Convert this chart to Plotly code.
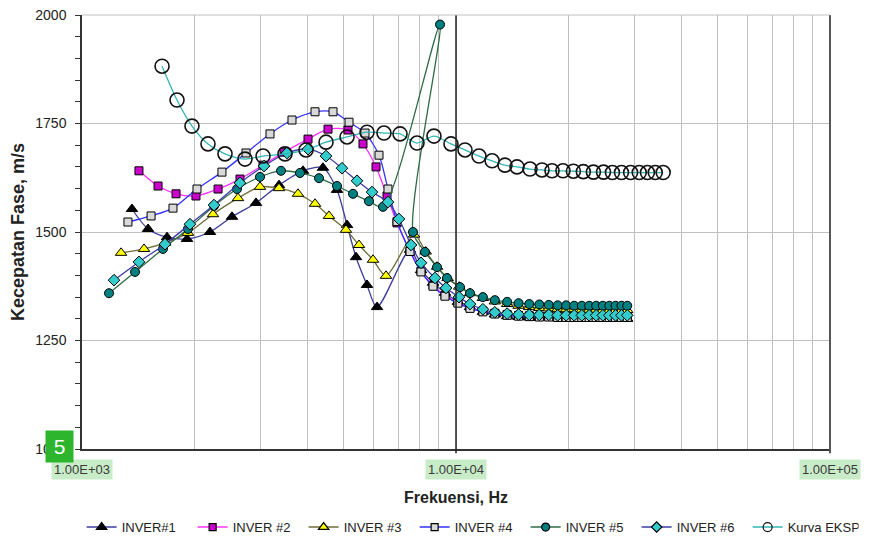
import plotly.graph_objects as go

# ---------------- data ----------------
tail_f = [10900, 11800, 12700, 13700, 14700, 15700, 16700, 17700, 18700, 19700,
          20700, 21700, 22700, 23700, 24700, 25700, 26700, 27700, 28700]

f1 = [1360, 1502, 1688, 1909, 2199, 2518, 2919, 3363, 3898, 4409, 4807, 5113, 5404,
      5781, 6150, 7535, 8062, 8680, 9346, 10120] + tail_f
v1 = [1553, 1507, 1488, 1484, 1500, 1535, 1567, 1608, 1641, 1648, 1597, 1516, 1442,
      1378, 1327, 1459, 1412, 1383, 1360, 1339,
      1327, 1316, 1310, 1306, 1304, 1303, 1302, 1302, 1301, 1301,
      1301, 1300, 1300, 1300, 1300, 1300, 1300, 1300, 1300]

f2 = [1420, 1597, 1784, 2017, 2311, 2645, 3048, 3469, 4021, 4548, 5143, 5640, 6112,
      6539, 6954, 7535, 8062, 8680, 9346, 10120] + tail_f
v2 = [1641, 1606, 1588, 1583, 1599, 1622, 1654, 1684, 1714, 1737, 1735, 1703, 1650,
      1583, 1521, 1456, 1410, 1377, 1354, 1338,
      1326, 1318, 1313, 1310, 1308, 1307, 1306, 1306, 1305, 1305,
      1305, 1305, 1305, 1305, 1305, 1305, 1305, 1305, 1305]

f3 = [1272, 1465, 1667, 1920, 2240, 2613, 2992, 3363, 3780, 4198, 4575, 5080, 5504,
      5999, 6499, 7723, 8300, 8900, 9500, 10200] + tail_f
v3 = [1452, 1461, 1475, 1498, 1541, 1578, 1604, 1601, 1588, 1565, 1537, 1505, 1470,
      1436, 1399, 1494, 1455, 1420, 1394, 1374,
      1359, 1348, 1340, 1334, 1330, 1327, 1325, 1324, 1323, 1322,
      1322, 1321, 1321, 1321, 1320, 1320, 1320, 1320, 1320]

f4 = [1327, 1530, 1751, 2030, 2367, 2745, 3182, 3643, 4198, 4690, 5175, 5711, 6225,
      6579, 6954, 7535, 8062, 8680, 9346, 10120] + tail_f
v4 = [1523, 1537, 1555, 1599, 1638, 1682, 1726, 1758, 1777, 1777, 1753, 1728, 1677,
      1599, 1524, 1455, 1408, 1375, 1352, 1336,
      1324, 1316, 1311, 1308, 1306, 1305, 1304, 1304, 1303, 1303,
      1303, 1303, 1303, 1303, 1303, 1303, 1303, 1303, 1303]

f5 = [1181, 1386, 1646, 1920, 2254, 2597, 2992, 3405, 3827, 4302, 4807, 5304, 5852,
      6378, 9063, 7674, 8262, 8897, 9461, 10250] + tail_f
v5 = [1359, 1408, 1461, 1507, 1560, 1599, 1627, 1641, 1636, 1624, 1606, 1588, 1571,
      1558, 1978, 1500, 1454, 1419, 1394, 1373,
      1359, 1350, 1343, 1339, 1336, 1334, 1333, 1332, 1331, 1331,
      1330, 1330, 1330, 1330, 1330, 1330, 1330, 1330, 1330]

f6 = [1218, 1420, 1667, 1944, 2254, 2645, 3067, 3532, 4021, 4492, 4957, 5437, 5962,
      6579, 7039, 7581, 8062, 8785, 9405, 10185] + tail_f
v6 = [1389, 1431, 1472, 1518, 1562, 1613, 1652, 1682, 1691, 1675, 1647, 1618, 1592,
      1569, 1530, 1470, 1429, 1394, 1371, 1350,
      1334, 1322, 1315, 1312, 1310, 1309, 1309, 1309, 1308, 1308,
      1308, 1308, 1308, 1308, 1308, 1308, 1308, 1308, 1308]

fe = [1637, 1795, 1968, 2172, 2412, 2728, 3048, 3490, 3972, 4492, 5113, 5781, 6418,
      7085, 7866, 8731, 9697, 10570, 11520, 12490, 13520, 14560, 15770, 16980, 18060,
      19320, 20600, 21900, 23300, 24800, 26200, 27700, 29300, 30900, 32500, 34100, 35800]
ve = [1882, 1804, 1744, 1703, 1680, 1668, 1675, 1680, 1689, 1707, 1719, 1730, 1728,
      1726, 1705, 1721, 1703, 1689, 1675, 1664, 1654, 1650, 1645, 1643, 1641,
      1641, 1640, 1639, 1638, 1638, 1637, 1637, 1637, 1637, 1637, 1637, 1637]

names = ["INVER#1", "INVER #2", "INVER #3", "INVER #4", "INVER #5", "INVER #6", "Kurva EKSP"]
xtick_labels = ["1.00E+03", "1.00E+04", "1.00E+05"]
y_ticks = [1000, 1250, 1500, 1750, 2000]

FONT = "Liberation Sans, Arial, sans-serif"

series = [
    # x, y, line colour, symbol, marker colour, size, legend size, marker line width
    (f1, v1, "#3C3C9C", "triangle-up", "#000000", 10, 9, 1),
    (f2, v2, "#FF33FF", "square", "#CC00CC", 8, 7, 1),
    (f3, v3, "#6E6E3A", "triangle-up", "#FFFF00", 10, 9, 1),
    (f4, v4, "#3333FF", "square", "#D9D9D9", 8, 7, 1),
    (f5, v5, "#2E6B46", "circle", "#008080", 9, 8, 1),
    (f6, v6, "#3C3CA8", "diamond", "#33CCCC", 9, 8, 1),
    (fe, ve, "#33B5B5", "circle-open", "#111111", 14, 9, 1.6),
]

fig = go.Figure()
for (x, y, lc, sym, mc, sz, lsz, mlw), nm in zip(series, names):
    fig.add_trace(go.Scatter(
        x=x, y=y, name=nm, mode="lines+markers", showlegend=False,
        line=dict(color=lc, width=1.3, shape="spline", smoothing=0.8),
        marker=dict(symbol=sym, color=mc, size=sz, line=dict(color="#000000", width=mlw)),
    ))
for (x, y, lc, sym, mc, sz, lsz, mlw), nm in zip(series, names):
    fig.add_trace(go.Scatter(
        x=[None], y=[None], name=nm, mode="lines+markers", showlegend=True,
        line=dict(color=lc, width=1.6),
        marker=dict(symbol=sym, color=mc, size=lsz, line=dict(color="#000000", width=1.2)),
    ))

grid_vals = []
for d in (1000, 10000):
    for k in range(1, 10):
        grid_vals.append(k * d)
grid_vals.append(100000)

# the page adds an 8px body margin, so the figure is a bit smaller than the window
fig.update_layout(
    width=865, height=536,
    margin=dict(l=74, r=43, t=7, b=95, autoexpand=False),
    paper_bgcolor="white", plot_bgcolor="white",
    font=dict(family=FONT, size=13, color="#222222"),
    showlegend=True,
    legend=dict(orientation="h", x=-0.0005, xanchor="left", y=-0.18, yanchor="middle",
                font=dict(family=FONT, size=13, color="#222222"),
                entrywidth=66, entrywidthmode="pixels", itemsizing="trace",
                bgcolor="rgba(0,0,0,0)"),
    xaxis=dict(type="log", range=[3, 5], tickvals=grid_vals, showticklabels=False,
               ticks="", showgrid=True, gridcolor="#C0C0C0", gridwidth=1,
               showline=True, linecolor="#333333", linewidth=1.5, zeroline=False,
               automargin=False,
               title=dict(text="<b>Frekuensi, Hz</b>", standoff=42,
                          font=dict(family=FONT, size=16, color="#222222"))),
    yaxis=dict(range=[1000, 2000], tickvals=y_ticks, showgrid=True, gridcolor="#C0C0C0",
               gridwidth=1, showline=True, linecolor="#333333", linewidth=1.5,
               ticks="outside", ticklen=5, tickcolor="#333333", zeroline=False,
               automargin=False, ticklabelstandoff=6, ticklabeloverflow="allow",
               minor=dict(dtick=50, ticks="outside", ticklen=5, tickcolor="#333333",
                          showgrid=False),
               tickfont=dict(family=FONT, size=14, color="#222222"),
               title=dict(text="<b>Kecepatan Fase, m/s</b>", standoff=12,
                          font=dict(family=FONT, size=18, color="#222222"))),
)

# frame lines
fig.add_shape(type="line", xref="paper", yref="paper", x0=0.5, x1=0.5, y0=-0.01, y1=1,
              line=dict(color="#222222", width=1.5))
fig.add_shape(type="line", xref="paper", yref="paper", x0=1, x1=1, y0=-0.01, y1=1,
              line=dict(color="#555555", width=2))
fig.add_shape(type="line", xref="paper", yref="paper", x0=0, x1=1, y0=1, y1=1,
              line=dict(color="#C0C0C0", width=1))

# x tick labels with green highlight
for px, txt in zip([0, 0.5, 1], xtick_labels):
    fig.add_annotation(xref="paper", yref="paper", x=px, y=-0.048, text=txt,
                       showarrow=False, xanchor="center", yanchor="middle",
                       bgcolor="#C8ECC8", borderpad=2,
                       font=dict(family=FONT, size=13, color="#3A3A3A"))

# green "5" badge
fig.add_annotation(xref="paper", yref="paper", x=-0.03, y=0.006, text="5",
                   showarrow=False, xanchor="center", yanchor="middle",
                   bgcolor="#2DB52D", width=25, height=29, borderpad=1,
                   font=dict(family=FONT, size=21, color="white"))

fig.write_html("out.html")
